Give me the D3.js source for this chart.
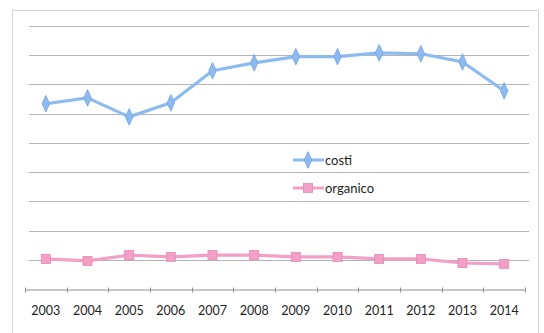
<!DOCTYPE html>
<html>
<head>
<meta charset="utf-8">
<script src="https://cdn.jsdelivr.net/npm/d3@7/dist/d3.min.js"></script>
<style>
  html, body { margin: 0; padding: 0; background: #fff; }
  svg { display: block; }
</style>
</head>
<body>
<svg id="chart" width="544" height="333"></svg>
<script>
// Years on the horizontal axis
const years = ["2003", "2004", "2005", "2006", "2007", "2008", "2009", "2010", "2011", "2012", "2013", "2014"];
// Series values
const costi    = [634, 654, 589, 637, 747, 774, 795, 795, 808, 805, 777, 678];
const organico = [103,  96, 116, 110, 116, 116, 110, 110, 103, 103,  89,  86];
// Gridline values (no labels are shown on the value axis)
const gridValues = [100, 200, 300, 400, 500, 600, 700, 800, 900];

const svg = d3.select("#chart");
const W = 544, H = 333;
const plot = { left: 25, right: 525, top: 26, bottom: 289 };
const font = "Lato, 'Open Sans', sans-serif";

// Outer chart frame
svg.append("path")
  .attr("d", `M12.5,${H} V10.5 H538.5 V${H}`)
  .attr("fill", "none")
  .attr("stroke", "#d4d4d4")
  .attr("stroke-width", 1);

const x = d3.scaleBand().domain(years).range([plot.left, plot.right]);
const y = d3.scaleLinear().domain([0, 900]).range([plot.bottom, plot.top]);

// Horizontal gridlines
svg.append("g")
  .selectAll("line")
  .data(gridValues)
  .join("line")
  .attr("x1", plot.left + 4)
  .attr("x2", plot.right + 4)
  .attr("y1", d => Math.round(y(d)) + 0.5)
  .attr("y2", d => Math.round(y(d)) + 0.5)
  .attr("stroke", "#b4b4b4")
  .attr("stroke-width", 1);

// Category axis
const xAxis = d3.axisBottom(x).tickSize(0).tickPadding(17);
const gx = svg.append("g")
  .attr("transform", `translate(0,${Math.round(y(0)) + 0.5})`)
  .call(xAxis);
gx.select(".domain").attr("stroke", "#8f8f8f");
gx.selectAll("text")
  .attr("font-family", font)
  .attr("font-size", 12.5)
  .attr("fill", "#1e1e1e");

// Tick marks at the boundaries between categories
const boundaries = years.map(d => x(d)).concat([plot.right]);
gx.selectAll(".bound")
  .data(boundaries)
  .join("line")
  .attr("class", "bound")
  .attr("x1", d => Math.round(d) + 0.5)
  .attr("x2", d => Math.round(d) + 0.5)
  .attr("y1", -2)
  .attr("y2", 3)
  .attr("stroke", "#8f8f8f");

const cx = d => x(d) + x.bandwidth() / 2;

const line = d3.line()
  .x((d, i) => cx(years[i]))
  .y(d => y(d));

const blue = "#8dbbef", blueDark = "#6fa3e3";
const pink = "#f3a0c6", pinkDark = "#e887b5";

// costi series
svg.append("path")
  .datum(costi)
  .attr("fill", "none")
  .attr("stroke", blue)
  .attr("stroke-width", 3.2)
  .attr("stroke-linejoin", "round")
  .attr("d", line);

const diamond = d3.symbol().type(d3.symbolDiamond).size(60);
svg.append("g")
  .selectAll("path")
  .data(costi)
  .join("path")
  .attr("transform", (d, i) => `translate(${cx(years[i])},${y(d)}) scale(0.9,1.15)`)
  .attr("d", diamond)
  .attr("fill", blue)
  .attr("stroke", blueDark)
  .attr("stroke-width", 0.8);

// organico series
svg.append("path")
  .datum(organico)
  .attr("fill", "none")
  .attr("stroke", pink)
  .attr("stroke-width", 3.2)
  .attr("stroke-linejoin", "round")
  .attr("d", line);

svg.append("g")
  .selectAll("rect")
  .data(organico)
  .join("rect")
  .attr("x", (d, i) => cx(years[i]) - 4.5)
  .attr("y", d => y(d) - 4.5)
  .attr("width", 9)
  .attr("height", 9)
  .attr("fill", pink)
  .attr("stroke", pinkDark)
  .attr("stroke-width", 0.8);

// Legend
const legendItems = [
  { name: "costi", color: blue, dark: blueDark, marker: "diamond" },
  { name: "organico", color: pink, dark: pinkDark, marker: "square" }
];
const lg = svg.append("g").attr("transform", "translate(293,160)");
legendItems.forEach((item, i) => {
  const g = lg.append("g").attr("transform", `translate(0,${i * 28})`);
  g.append("line")
    .attr("x1", 0).attr("x2", 31)
    .attr("y1", 0).attr("y2", 0)
    .attr("stroke", item.color)
    .attr("stroke-width", 3);
  if (item.marker === "diamond") {
    g.append("path")
      .attr("transform", "translate(15,0) scale(0.9,1.15)")
      .attr("d", diamond)
      .attr("fill", item.color)
      .attr("stroke", item.dark)
      .attr("stroke-width", 0.8);
  } else {
    g.append("rect")
      .attr("x", 10.5).attr("y", -4.5)
      .attr("width", 9).attr("height", 9)
      .attr("fill", item.color)
      .attr("stroke", item.dark)
      .attr("stroke-width", 0.8);
  }
  g.append("text")
    .attr("x", 32)
    .attr("y", 0)
    .attr("dy", "0.35em")
    .attr("font-family", font)
    .attr("font-size", 13)
    .attr("fill", "#1e1e1e")
    .text(item.name);
});
</script>
</body>
</html>
